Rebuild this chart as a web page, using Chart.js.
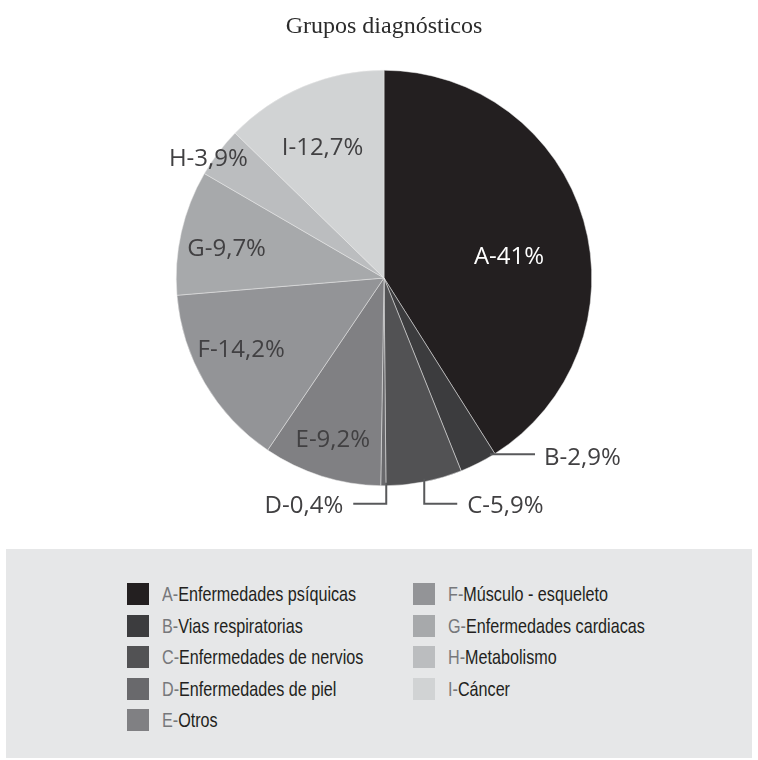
<!DOCTYPE html>
<html>
<head>
<meta charset="utf-8">
<script src="https://cdn.jsdelivr.net/npm/chart.js@4/dist/chart.umd.min.js"></script>
<style>
    body { margin: 0; background: #ffffff; }
    #wrap { position: relative; width: 758px; height: 760px; }
    #legend {
        position: absolute; left: 6px; top: 549px; width: 746px; height: 209px;
        background: #e6e7e8;
    }
    .item { position: absolute; height: 22px; display: flex; align-items: center; white-space: nowrap; }
    .swatch { width: 22px; height: 22px; margin-right: 13px; flex: none; }
    .txt {
        font-family: "Liberation Sans", sans-serif; font-size: 21px; color: #231f20;
        transform: scaleX(0.77); transform-origin: left center;
    }
    .txt span { color: #77787b; }
</style>
</head>
<body>
<div id="wrap">
    <canvas id="pie-chart" width="758" height="540"></canvas>
    <div id="legend"></div>
</div>
<script>
const categories = ['A', 'B', 'C', 'D', 'E', 'F', 'G', 'H', 'I'];
const categoryNames = ['Enfermedades psíquicas', 'Vias respiratorias', 'Enfermedades de nervios', 'Enfermedades de piel', 'Otros',
    'Músculo - esqueleto', 'Enfermedades cardiacas', 'Metabolismo', 'Cáncer'];
const shares = [41, 2.9, 5.9, 0.4, 9.2, 14.2, 9.7, 3.9, 12.7];
const sliceColors = ['#231f20', '#3c3c3e', '#525254', '#69696c', '#808083', '#939497', '#a7a9ab', '#bbbdbf', '#d1d3d4'];

// where each slice label sits: fraction of radius + small angle tweak (deg)
const labelSpots = [
    { r: 0.61, turn: 6.7 },
    { r: 0.99, turn: -4, leader: 'right' },
    { r: 1.0, turn: 0, leader: 'down', side: 1 },
    { r: 1.0, turn: -0.8, leader: 'down', side: -1 },
    { r: 0.82, turn: 0 },
    { r: 0.77, turn: 3.6 },
    { r: 0.77, turn: -2.4 },
    { r: 1.02, turn: -3.2 },
    { r: 0.69, turn: -2.5 }
];

const sliceLabels = {
    id: 'sliceLabels',
    afterDatasetsDraw(chart) {
        const ctx = chart.ctx;
        const meta = chart.getDatasetMeta(0);
        meta.data.forEach((arc, i) => {
            const p = arc.getProps(['x', 'y', 'startAngle', 'endAngle', 'outerRadius'], true);
            const spot = labelSpots[i];
            const a = (p.startAngle + p.endAngle) / 2 + spot.turn * Math.PI / 180;
            const R = p.outerRadius;
            const ax = p.x + Math.cos(a) * R * spot.r;
            const ay = p.y + Math.sin(a) * R * spot.r;
            const text = categories[i] + '-' + String(shares[i]).replace('.', ',') + '%';

            ctx.save();
            ctx.font = '24px "Open Sans"';
            ctx.textBaseline = 'middle';
            ctx.fillStyle = i === 0 ? '#ffffff' : '#414042';
            ctx.strokeStyle = '#58595b';
            ctx.lineWidth = 2;

            if (spot.leader === 'right') {
                ctx.beginPath();
                ctx.moveTo(ax, ay);
                ctx.lineTo(ax + 45, ay);
                ctx.stroke();
                ctx.textAlign = 'left';
                ctx.fillText(text, ax + 54, ay + 4);
            } else if (spot.leader === 'down') {
                const ly = p.y + R + 18;
                const ex = ax + spot.side * 33;
                ctx.beginPath();
                ctx.moveTo(ax, ay - 3);
                ctx.lineTo(ax, ly);
                ctx.lineTo(ex, ly);
                ctx.stroke();
                ctx.textAlign = spot.side > 0 ? 'left' : 'right';
                ctx.fillText(text, ex + spot.side * 10, ly + 2);
            } else {
                ctx.textAlign = 'center';
                ctx.fillText(text, ax, ay);
            }
            ctx.restore();
        });
    }
};

new Chart(document.getElementById('pie-chart').getContext('2d'), {
    type: 'pie',
    data: {
        labels: categories,
        datasets: [{
            data: shares,
            backgroundColor: sliceColors,
            borderColor: '#e8e8e9',
            borderWidth: 0.5
        }]
    },
    options: {
        responsive: false,
        animation: false,
        events: [],
        layout: { padding: { left: 10, right: 0, top: 0, bottom: 54 } },
        plugins: {
            legend: { display: false },
            tooltip: { enabled: false },
            title: {
                display: true,
                text: 'Grupos diagnósticos',
                color: '#2b2b2b',
                font: { family: '"Liberation Serif", serif', size: 24, weight: 'normal' },
                padding: { top: 12, bottom: 29.2 }
            }
        }
    },
    plugins: [sliceLabels]
});

// legend in two columns, built from the same arrays
const legend = document.getElementById('legend');
categories.forEach((c, i) => {
    const col = i < 5 ? 0 : 1;
    const row = i < 5 ? i : i - 5;
    const item = document.createElement('div');
    item.className = 'item';
    item.style.left = (col === 0 ? 121 : 407) + 'px';
    item.style.top = (594 + row * 31.5 - 11 - 549) + 'px';
    item.innerHTML = '<div class="swatch" style="background:' + sliceColors[i] + '"></div>' +
        '<div class="txt"><span>' + c + '-</span>' + categoryNames[i] + '</div>';
    legend.appendChild(item);
});
</script>
</body>
</html>
